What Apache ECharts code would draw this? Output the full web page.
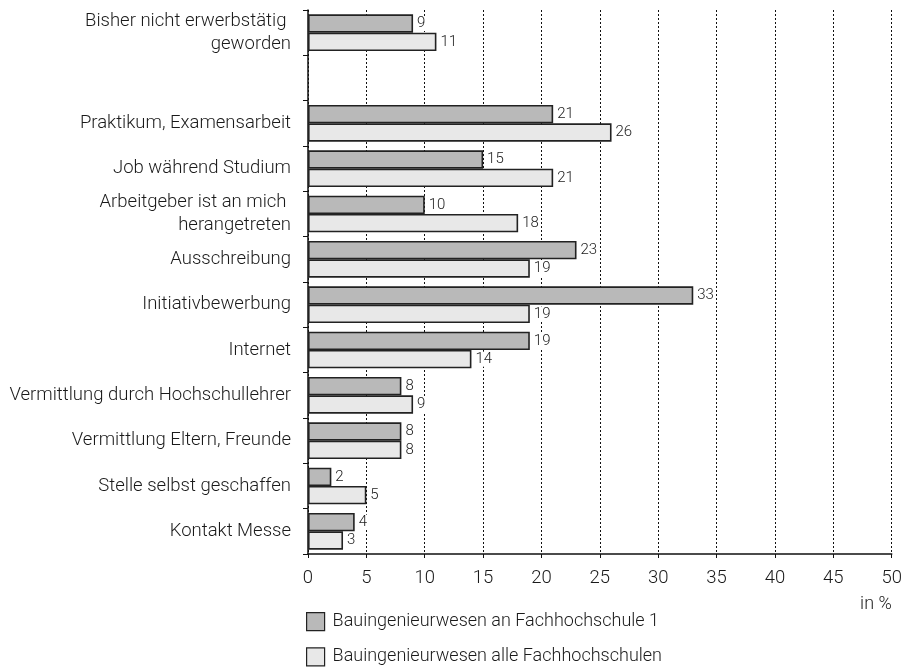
<!DOCTYPE html>
<html>
<head>
<meta charset="utf-8">
<script src="https://cdn.jsdelivr.net/npm/echarts@6/dist/echarts.min.js"></script>
<style>
  html, body { margin: 0; padding: 0; background: #fff; }
  #chart { width: 905px; height: 667px; }
</style>
</head>
<body>
<div id="chart"></div>
<script>
// Wege zur ersten Stelle (in %), von oben nach unten
const categories = [
  'Bisher nicht erwerbstätig \ngeworden',
  '',
  'Praktikum, Examensarbeit',
  'Job während Studium',
  'Arbeitgeber ist an mich \nherangetreten',
  'Ausschreibung',
  'Initiativbewerbung',
  'Internet',
  'Vermittlung durch Hochschullehrer',
  'Vermittlung Eltern, Freunde',
  'Stelle selbst geschaffen',
  'Kontakt Messe'
];
const seriesNames = [
  'Bauingenieurwesen an Fachhochschule 1',
  'Bauingenieurwesen alle Fachhochschulen'
];
const valuesFH1 = [9, null, 21, 15, 10, 23, 33, 19, 8, 8, 2, 4];
const valuesAll = [11, null, 26, 21, 18, 19, 19, 14, 9, 8, 5, 3];
const axisTicks = { min: 0, max: 50, interval: 5 };

const FONT = 'Roboto, "Liberation Sans", Arial, sans-serif';
const WEIGHT = 300;
const TEXT = '#1a1a1a';

const chart = echarts.init(document.getElementById('chart'), null, { renderer: 'canvas' });

function barSeries(name, data, color) {
  return {
    name: name,
    type: 'bar',
    data: data,
    barGap: '0%',
    barCategoryGap: '19%',
    itemStyle: { color: color, borderColor: '#222', borderWidth: 1.6 },
    label: {
      show: true,
      position: 'right',
      distance: 3,
      color: TEXT,
      fontFamily: FONT,
      fontWeight: WEIGHT,
      fontSize: 15,
      backgroundColor: '#ffffff',
      padding: [0, 1, 0, 1]
    },
    emphasis: { disabled: true }
  };
}

chart.setOption({
  animation: false,
  backgroundColor: '#ffffff',
  grid: { left: 308, right: 11, top: 10, bottom: 113, containLabel: false },
  legend: {
    orient: 'vertical',
    left: 306,
    top: 612,
    padding: 0,
    itemWidth: 18,
    itemHeight: 18,
    itemGap: 16,
    icon: 'rect',
    textStyle: { color: TEXT, fontFamily: FONT, fontWeight: WEIGHT, fontSize: 18, padding: [0, 0, 0, 3] },
    data: seriesNames.map(n => ({ name: n, itemStyle: { borderColor: '#222', borderWidth: 1.2 } }))
  },
  xAxis: {
    type: 'value',
    min: axisTicks.min,
    max: axisTicks.max,
    interval: axisTicks.interval,
    name: 'in %',
    nameLocation: 'end',
    nameGap: 0,
    nameTextStyle: {
      color: TEXT, fontFamily: FONT, fontWeight: WEIGHT, fontSize: 18,
      align: 'right', verticalAlign: 'top', padding: [41, 0, 0, 0]
    },
    axisLine: { show: true, lineStyle: { color: '#111', width: 1.5 } },
    axisTick: { show: true, length: 4, lineStyle: { color: '#111' } },
    axisLabel: { color: TEXT, fontFamily: FONT, fontWeight: WEIGHT, fontSize: 18.5, margin: 15 },
    splitLine: { show: true, lineStyle: { color: '#111', type: [2, 2], width: 1 } }
  },
  yAxis: {
    type: 'category',
    inverse: true,
    data: categories,
    axisLine: { show: true, lineStyle: { color: '#111', width: 1.5 } },
    axisTick: { show: true, length: 5, lineStyle: { color: '#111' } },
    axisLabel: {
      color: TEXT, fontFamily: FONT, fontWeight: WEIGHT, fontSize: 18.5, margin: 17,
      align: 'right', lineHeight: 23
    },
    splitLine: { show: false }
  },
  series: [
    barSeries(seriesNames[0], valuesFH1, '#b9b9b9'),
    barSeries(seriesNames[1], valuesAll, '#e8e8e8')
  ]
});
</script>
</body>
</html>
